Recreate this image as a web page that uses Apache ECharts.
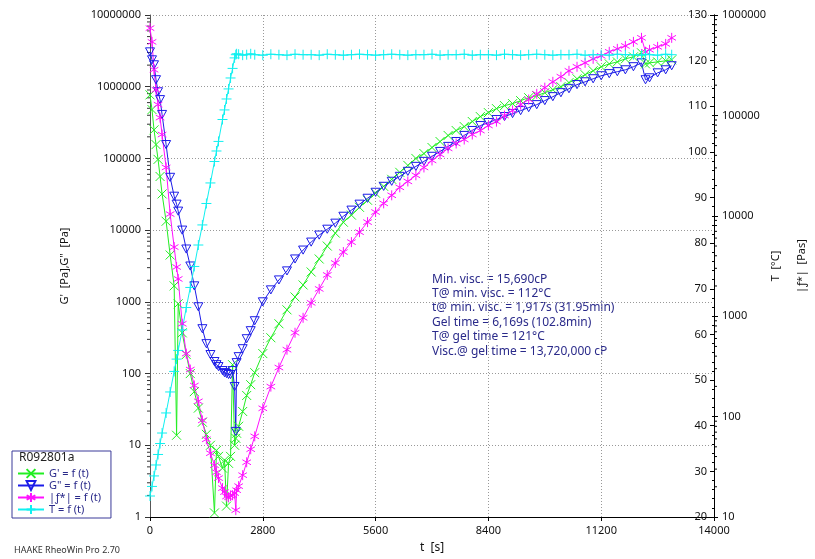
<!DOCTYPE html>
<html><head><meta charset="utf-8">
<script src="https://cdn.jsdelivr.net/npm/echarts@6/dist/echarts.min.js"></script>
<style>html,body{margin:0;padding:0;background:#fff}#c{width:815px;height:559px}</style>
</head><body><div id="c"></div>
<script>
// measurement times [s]
const timeS = [
  0,50,100,150,200,250,300,
  400,500,600,660,700,800,900,1000,1100,1200,1300,1400,1500,
  1600,1650,1700,1800,1850,1900,1950,2000,2050,2100,2130,2150,2200,2300,2400,2500,2600,
  2800,3000,3200,3400,3600,3800,4000,4200,4400,4600,4800,5000,5200,5400,5600,5800,6000,
  6200,6400,6600,6800,7000,7200,7400,7600,7800,8000,8200,8400,8600,8800,9000,9200,9400,
  9600,9800,10000,10200,10400,10600,10800,11000,11200,11400,11600,11800,12000,12200,
  12300,12400,12600,12800,12950
];
// G' [Pa]
const gPrime = [
  7.7e5,4.8e5,2.5e5,1.56e5,9.7e4,5.6e4,3.2e4,
  1.33e4,4500,1670,13.8,940,370,184,100,56,33,21,14.2,10.0,
  1.14,8.5,7.0,4.8,6.2,1.42,5.6,7.0,133,10.0,12.5,14.7,18.4,29.6,49.5,70,103,
  190,316,495,774,1170,1720,2610,3960,6000,9090,12900,16200,20800,26100,32700,40800,51100,
  64000,80000,100000,117000,142000,172000,209000,245000,278000,327000,383000,435000,495000,545000,581000,640000,703000,
  750000,825000,909000,1000000,1140000,1290000,1470000,1670000,1900000,2080000,2220000,2450000,2610000,2970000,
  2080000,2150000,2220000,2300000,2370000
];
// G" [Pa]
const gDouble = [
  3.06e6,2.37e6,2.02e6,1.25e6,8.5e5,6.6e5,4.1e5,
  1.56e5,5.45e4,2.97e4,2.30e4,1.84e4,1.0e4,5450,3160,1670,853,422,261,184,
  147,133,125,110,103,100,97,97,110,66,15.6,142,172,222,306,396,545,
  1000,1468,2020,2700,3960,5270,6810,8530,10300,12500,15600,19000,23000,27800,33700,40800,48000,
  56200,66000,77400,90900,107000,125000,147000,172000,209000,245000,287000,316000,348000,383000,422000,464000,511000,
  562000,640000,726000,825000,938000,1070000,1170000,1290000,1420000,1520000,1620000,1720000,1900000,2150000,
  1250000,1330000,1560000,1720000,1960000
];
// |eta*| [Pas]
const etaStar = [
  7.4e5,5.4e5,2.85e5,1.8e5,1.28e5,9.5e4,6.45e4,
  3.03e4,1.04e4,4880,3090,2350,841,424,294,204,142,91.7,59.4,43.2,
  32.8,27.9,24.4,19.4,17.7,16.0,15.7,16.2,16.5,17.3,11.7,18.5,20.3,26.1,35.1,47.3,63.6,
  121,199,308,464,684,964,1358,1870,2576,3388,4355,5470,6870,8650,10900,13300,16000,
  19200,22000,25300,30300,35600,40800,46900,52500,57500,64500,70600,79300,86700,99500,112000,128000,144000,
  164000,189000,216000,243000,278000,305000,334000,366000,392000,430000,460000,492000,540000,592000,
  430000,450000,482000,515000,592000
];
// T [°C]
const tempC = [
  24.6,26.7,29.0,31.4,33.7,36.1,38.4,
  42.8,47.4,51.9,54.6,56.5,61.0,65.9,70.3,74.9,79.6,84.0,88.7,93.2,
  97.9,100.2,102.3,107.1,109.2,111.6,113.8,116.2,118.3,120.6,121.3,121.5,121.4,121.2,121.3,121.5,121.3,
  121.2,121.4,121.3,121.2,121.4,121.3,121.3,121.2,121.4,121.3,121.2,121.3,121.4,121.3,121.2,121.3,121.4,
  121.3,121.2,121.3,121.3,121.4,121.2,121.3,121.3,121.4,121.2,121.3,121.3,121.2,121.4,121.3,121.2,121.3,
  121.4,121.3,121.2,121.3,121.3,121.4,121.2,121.3,121.3,121.2,121.4,121.3,121.3,121.2,
  121.4,121.3,121.2,121.4,121.3
];
const seriesNames = ["G' = f (t)", 'G" = f (t)', '|ƒ*| = f (t)', 'T = f (t)'];
const annotationLines = [
  'Min. visc. = 15,690cP',
  'T@ min. visc. = 112°C',
  't@ min. visc. = 1,917s (31.95min)',
  'Gel time = 6,169s (102.8min)',
  'T@ gel time = 121°C',
  'Visc.@ gel time = 13,720,000 cP'
];

const FONT = '"Noto Sans", "DejaVu Sans", sans-serif';
const pair = arr => timeS.map((t, i) => [t, arr[i]]);
const symX = 'path://M0,0L10,10M10,0L0,10';
const symTri = 'path://M0,0L10,0L5,9Z';
const symStar = 'path://M5,0L5,10M0.7,2.5L9.3,7.5M0.7,7.5L9.3,2.5';
const symPlus = 'path://M5,0L5,10M0,5L10,5';

// logarithmic minor tick values (axis decoration)
function logMinor(lo, hi) {
  const out = [];
  for (let d = lo; d < hi; d *= 10) for (let m = 2; m <= 9; m++) out.push(d * m);
  return out;
}
const leftMinor = logMinor(1, 1e7);
const etaMinor = logMinor(10, 1e6);

function mk(name, arr, color, sym, size, yIdx, fill) {
  return {
    name, type: 'line', data: pair(arr), xAxisIndex: 0, yAxisIndex: yIdx,
    symbol: sym, symbolSize: size, symbolKeepAspect: true, showAllSymbol: true,
    lineStyle: { color, width: 1 },
    itemStyle: { color: fill || color, borderColor: color, borderWidth: 1 },
    emphasis: { disabled: true }, silent: true, animation: false
  };
}
function minorTicks(vals, yIdx, xVal, dx, color) {
  return {
    type: 'custom', xAxisIndex: 0, yAxisIndex: yIdx, silent: true, clip: false, z: 1,
    data: vals.map(v => [xVal, v]),
    renderItem: (params, api) => {
      const p = api.coord([api.value(0), api.value(1)]);
      return { type: 'line', shape: { x1: p[0], y1: p[1], x2: p[0] + dx, y2: p[1] },
        style: { stroke: color, lineWidth: 1 } };
    }
  };
}
const lbl = { color: '#111', fontFamily: FONT, fontSize: 11 };
const chart = echarts.init(document.getElementById('c'));
chart.setOption({
  animation: false,
  backgroundColor: '#fff',
  grid: { left: 150, right: 95, top: 15, bottom: 40, containLabel: false },
  title: { text: 'R092801a', left: 19, top: 452, padding: 0,
    textStyle: { fontFamily: FONT, fontSize: 12, fontWeight: 'normal', color: '#222' } },
  legend: {
    data: seriesNames, orient: 'vertical', left: 12, top: 451,
    padding: [17, 10, 3, 5], itemGap: 1, itemWidth: 26, itemHeight: 11,
    borderColor: '#3a3a99', borderWidth: 1, selectedMode: false,
    textStyle: { fontFamily: FONT, fontSize: 11, color: '#2a2a8a' }
  },
  xAxis: {
    type: 'value', min: 0, max: 14000, interval: 2800,
    axisLine: { show: true, onZero: false, lineStyle: { color: '#000' } },
    axisTick: { show: true, length: 4, lineStyle: { color: '#000' } },
    axisLabel: Object.assign({ margin: 8, formatter: v => String(v) }, lbl),
    splitLine: { show: true, lineStyle: { color: '#999', type: [1, 2] } },
    name: 't  [s]', nameLocation: 'middle', nameGap: 25,
    nameTextStyle: { fontFamily: FONT, fontSize: 12, color: '#111' }
  },
  yAxis: [
    {
      type: 'log', logBase: 10, min: 1, max: 1e7, position: 'left',
      axisLine: { show: true, lineStyle: { color: '#555' } },
      axisTick: { show: true, length: 5, lineStyle: { color: '#333' } },
      axisLabel: Object.assign({ margin: 9, formatter: v => String(Math.round(v)) }, lbl),
      splitLine: { show: true, lineStyle: { color: '#999', type: [1, 2] } },
      name: "G'  [Pa],G\"  [Pa]", nameLocation: 'middle', nameGap: 80, nameRotate: 90,
      nameTextStyle: { fontFamily: FONT, fontSize: 11, color: '#111' }
    },
    {
      type: 'value', min: 20, max: 130, interval: 10, position: 'right',
      axisLine: { show: true, lineStyle: { color: '#000' } },
      axisTick: { show: true, inside: true, length: 4, lineStyle: { color: '#000' } },
      minorTick: { show: true, splitNumber: 5, length: 2, lineStyle: { color: '#000' } },
      axisLabel: Object.assign({ inside: true, margin: 7 }, lbl),
      splitLine: { show: false },
      name: 'T  [°C]', nameLocation: 'middle', nameGap: 56, nameRotate: 90,
      nameTextStyle: { fontFamily: FONT, fontSize: 11, color: '#111' }
    },
    {
      type: 'log', logBase: 10, min: 10, max: 1e6, position: 'right', offset: 0,
      axisLine: { show: true, lineStyle: { color: '#000' } },
      axisTick: { show: true, length: 4, lineStyle: { color: '#000' } },
      axisLabel: Object.assign({ margin: 8, formatter: v => String(Math.round(v)) }, lbl),
      splitLine: { show: false },
      name: '|ƒ*|  [Pas]', nameLocation: 'middle', nameGap: 82, nameRotate: 90,
      nameTextStyle: { fontFamily: FONT, fontSize: 11, color: '#111' }
    }
  ],
  series: [
    mk(seriesNames[0], gPrime, '#22ee22', symX, 9, 0),
    mk(seriesNames[1], gDouble, '#1c1ce8', symTri, 9, 0, 'rgba(255,255,255,0)'),
    mk(seriesNames[2], etaStar, '#ff10ff', symStar, 10, 2),
    mk(seriesNames[3], tempC, '#10f0f0', symPlus, 10, 1),
    minorTicks(leftMinor, 0, 0, -3, '#333'),
    minorTicks(etaMinor, 2, 14000, 3, '#000')
  ],
  graphic: [
    { type: 'text', left: 432, top: 272, silent: true,
      style: { text: annotationLines.join('\n'), font: '12px ' + FONT, fill: '#2a2a8a', lineHeight: 14.4 } },
    { type: 'text', left: 14, top: 546, silent: true,
      style: { text: 'HAAKE RheoWin Pro 2.70', font: '9px ' + FONT, fill: '#333' } }
  ]
});
</script>
</body></html>
